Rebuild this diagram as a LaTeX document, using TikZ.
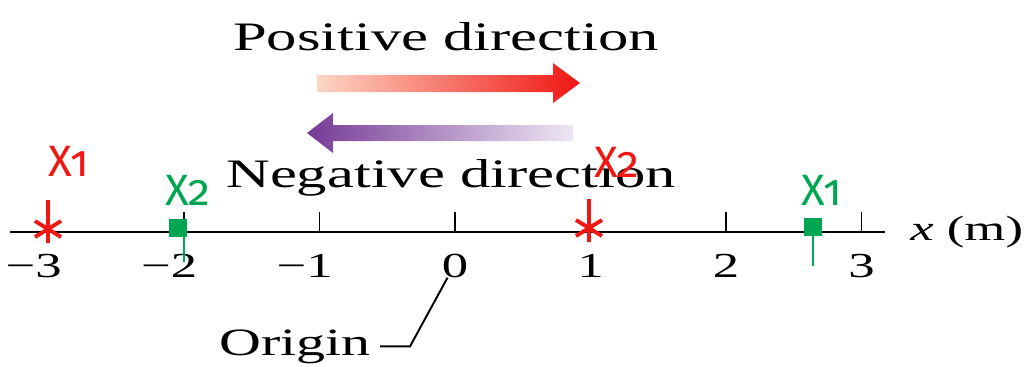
\documentclass[tikz,border=0pt]{standalone}
\usepackage{fontspec}
\setmainfont{Liberation Serif}[FakeStretch=1.5]
\newfontfamily\markfont{Fira Sans}[Numbers=OldStyle]
\usepackage{tikz}
\usetikzlibrary{positioning}
\definecolor{rougeVif}{RGB}{240,22,18}
\definecolor{peche}{RGB}{252,214,196}
\definecolor{violetFonce}{RGB}{118,58,150}
\definecolor{lavande}{RGB}{238,230,244}
\definecolor{vertMark}{RGB}{0,166,81}

\begin{document}
\begin{tikzpicture}[x=0.02cm, y=-0.02cm,
		lbl/.style={font=\fontsize{23}{27}\selectfont, inner sep=0pt, anchor=base},
		num/.style={font=\fontsize{20}{24}\selectfont, inner sep=0pt, anchor=base},
		mk/.style={font=\markfont\fontsize{25}{29}\selectfont, inner sep=0pt, anchor=base},
		tck/.style={line width=0.8pt},
		starline/.style={draw=rougeVif, line width=2.2pt},
		sq/.style={rectangle, fill=vertMark, minimum size=0.36cm, inner sep=0pt},
		stem/.style={vertMark, line width=1.5pt},
		redstar/.pic={\draw[starline] (0,-29) -- (0,14) (-13,-8) -- (13,8) (-13,8) -- (13,-8);}
		]
		\useasboundingbox (0,0) rectangle (1033,366);
		
		% direction arrows
		\node[lbl] (pos) at (446,50) {Positive direction};
		\shade[left color=peche, right color=rougeVif] (317,75) -- (553,75) -- (553,63) -- (580,83)
		  -- (553,103) -- (553,92) -- (317,92) -- cycle;
		\shade[left color=violetFonce, right color=lavande] (307,133) -- (333,113) -- (333,125)
		  -- (573,125) -- (573,141) -- (333,141) -- (333,153) -- cycle;
		\node[lbl] (neg) at (451,187) {Negative direction};
		
		% axis
		\coordinate (a0) at (10,232);
		\coordinate (a1) at (885,232);
		\draw[line width=1.6pt] (a0) -- (a1);
		\node[lbl, font=\fontsize{20}{24}\selectfont, anchor=base west] (unit) at (910,240) {\textit{x} (m)};
		\foreach \v/\lab [count=\i] in {-3/{\llap{−}3}, -2/{\llap{−}2}, -1/{\llap{−}1}, 0/0, 1/1, 2/2, 3/3} {
			\draw[tck] ({455+135.5*\v},232) -- ++(0,-20);
			\node[num] (t\i) at ({455+135.5*\v},277) {\lab};
		}
		\node[lbl, font=\fontsize{22}{26}\selectfont] (orig) at (295,355) {Origin};
		\draw[line width=1.1pt] ([xshift=0.18cm]orig.east) -- ++(30,0) -- ([xshift=-0.15cm]t4.south);
		
		% red positions
		\pic at (48,229) {redstar};
		\pic at (589,228) {redstar};
		\node[mk, text=rougeVif] (r1) at (69,176) {X1};
		\node[mk, text=rougeVif] (r2) at (617,177) {X2};
		
		% green positions
		\node[sq] (g2) at (178,228) {};
		\node[sq] (g1) at (813,227) {};
		\draw[stem] (g2.south -| t2) -- ++(0,25);
		\draw[stem] (g1.south) -- ++(0,30);
		\node[mk, text=vertMark] (l2) at (188,205) {X2};
		\node[mk, text=vertMark] (l1) at (822,205) {X1};
\end{tikzpicture}
\end{document}
